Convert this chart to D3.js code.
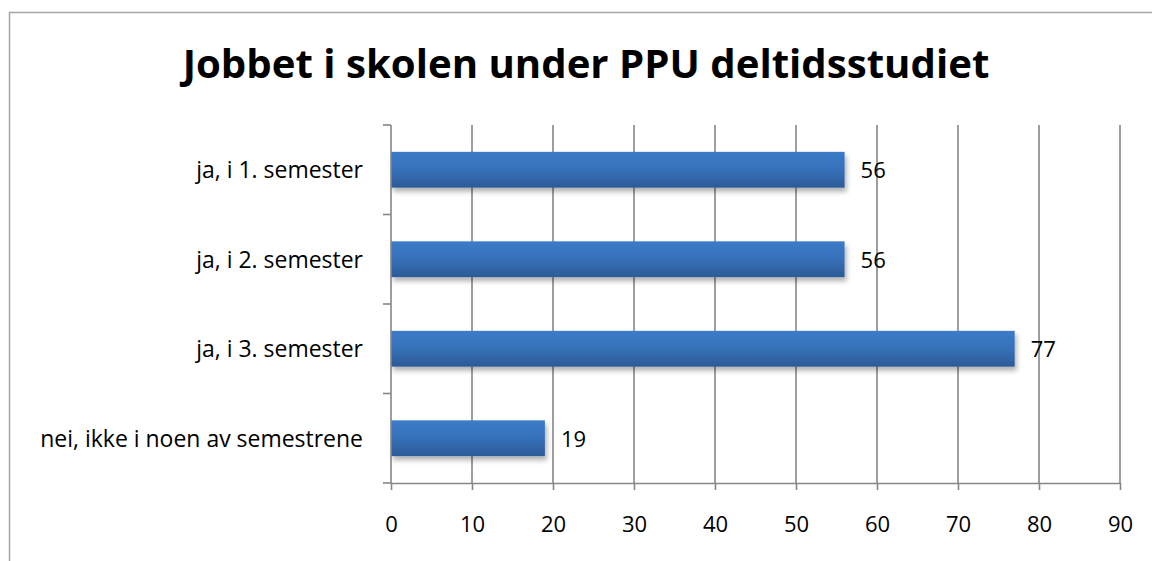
<!DOCTYPE html>
<html>
<head>
<meta charset="utf-8">
<script src="https://cdn.jsdelivr.net/npm/d3@7"></script>
<style>
  html, body { margin: 0; padding: 0; background: #fff; }
  svg { display: block; }
</style>
</head>
<body>
<svg width="1152" height="561"></svg>
<script>
// chart data
var title = "Jobbet i skolen under PPU deltidsstudiet";
var categories = ["ja, i 1. semester", "ja, i 2. semester", "ja, i 3. semester", "nei, ikke i noen av semestrene"];
var values = [56, 56, 77, 19];
var xTicks = [0, 10, 20, 30, 40, 50, 60, 70, 80, 90];

var svg = d3.select("svg"),
  margin = {top: 125, right: 32, bottom: 78, left: 391},
  width = 1152 - margin.left - margin.right,
  height = 561 - margin.top - margin.bottom;

var font = "'Open Sans', sans-serif";

// outer frame (cropped chart border)
svg.append("path")
  .attr("d", "M 9.5,561 L 9.5,12.5 L 1152,12.5")
  .attr("fill", "none")
  .attr("stroke", "#a6a6a6")
  .attr("stroke-width", 1.5);

var defs = svg.append("defs");
var grad = defs.append("linearGradient")
  .attr("id", "barGrad")
  .attr("x1", 0).attr("y1", 0).attr("x2", 0).attr("y2", 1);
grad.append("stop").attr("offset", "0%").attr("stop-color", "#3b7bc8");
grad.append("stop").attr("offset", "50%").attr("stop-color", "#3671b9");
grad.append("stop").attr("offset", "100%").attr("stop-color", "#2c5a97");

var shadow = defs.append("filter")
  .attr("id", "shadow")
  .attr("x", "-5%").attr("y", "-30%").attr("width", "115%").attr("height", "180%");
shadow.append("feDropShadow")
  .attr("dx", 2).attr("dy", 4)
  .attr("stdDeviation", 2.5)
  .attr("flood-color", "#000")
  .attr("flood-opacity", 0.3);

var x = d3.scaleLinear().domain([0, 90]).range([0, width]);
var y = d3.scaleBand().domain(categories).range([0, height])
  .paddingInner(0.6).paddingOuter(0.3);

var g = svg.append("g")
  .attr("transform", "translate(" + margin.left + "," + margin.top + ")");

// vertical gridlines
g.selectAll(".grid")
  .data(xTicks.slice(1))
  .enter().append("line")
  .attr("class", "grid")
  .attr("x1", function(d) { return x(d); })
  .attr("x2", function(d) { return x(d); })
  .attr("y1", 0)
  .attr("y2", height)
  .attr("stroke", "#868686")
  .attr("stroke-width", 1.6);

// bars
g.selectAll(".bar")
  .data(values)
  .enter().append("rect")
  .attr("class", "bar")
  .attr("x", x(0))
  .attr("y", function(d, i) { return y(categories[i]); })
  .attr("width", function(d) { return x(d) - x(0); })
  .attr("height", y.bandwidth())
  .attr("fill", "url(#barGrad)")
  .attr("filter", "url(#shadow)");

// value labels
g.selectAll(".val")
  .data(values)
  .enter().append("text")
  .attr("class", "val")
  .attr("x", function(d) { return x(d) + 16; })
  .attr("y", function(d, i) { return y(categories[i]) + y.bandwidth() / 2; })
  .attr("dy", "0.38em")
  .style("font", "22px " + font)
  .attr("fill", "#000")
  .text(function(d) { return d; });

// y axis: line plus ticks at the category boundaries
var step = y.step();
var bounds = d3.range(categories.length + 1).map(function(i) { return i * step; });
g.append("line")
  .attr("x1", 0).attr("x2", 0).attr("y1", 0).attr("y2", height)
  .attr("stroke", "#868686").attr("stroke-width", 1.6);
g.selectAll(".ytick")
  .data(bounds)
  .enter().append("line")
  .attr("class", "ytick")
  .attr("x1", -8).attr("x2", 0)
  .attr("y1", function(d) { return d; })
  .attr("y2", function(d) { return d; })
  .attr("stroke", "#868686").attr("stroke-width", 1.6);

g.selectAll(".cat")
  .data(categories)
  .enter().append("text")
  .attr("class", "cat")
  .attr("x", -28)
  .attr("y", function(d) { return y(d) + y.bandwidth() / 2; })
  .attr("dy", "0.38em")
  .attr("text-anchor", "end")
  .style("font", "19px " + font)
  .attr("fill", "#000")
  .text(function(d) { return d; });

// x axis
var xAxis = g.append("g")
  .attr("transform", "translate(0," + height + ")")
  .call(d3.axisBottom(x).tickValues(xTicks).tickSize(7).tickSizeOuter(0).tickPadding(26));
xAxis.select(".domain").attr("stroke", "#868686").attr("stroke-width", 1.6);
xAxis.selectAll(".tick line").attr("stroke", "#868686").attr("stroke-width", 1.6);
xAxis.selectAll(".tick text")
  .style("font", "22px " + font)
  .attr("fill", "#000");

// title
var t = svg.append("text")
  .attr("x", 586)
  .attr("y", 78)
  .attr("text-anchor", "middle")
  .style("font", "bold 36px " + font)
  .attr("fill", "#000")
  .text(title);
// fit title to the width it has in the original
var tw = t.node().getComputedTextLength();
t.style("font-size", (36 * 807 / tw) + "px");

// fit category labels to the width of the longest one
var longest = 0;
g.selectAll(".cat").each(function() { longest = Math.max(longest, this.getComputedTextLength()); });
g.selectAll(".cat").style("font-size", (19 * 323 / longest) + "px");
</script>
</body>
</html>
